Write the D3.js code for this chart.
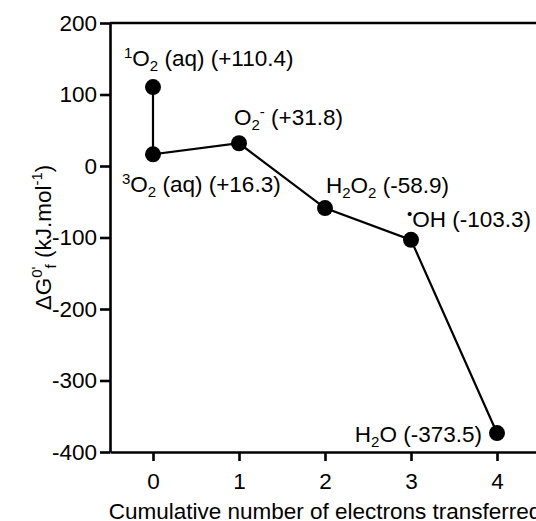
<!DOCTYPE html>
<html>
<head>
<meta charset="utf-8">
<script src="https://cdn.jsdelivr.net/npm/d3@7"></script>
<style>
  body { margin: 0; background: #fff; }
  svg { display: block; font-family: "Liberation Sans", Arial, sans-serif; }
</style>
</head>
<body>
<div id="chart"></div>
<script>
// electrons transferred (x) and ΔG0'f values (y)
const electrons = [0, 0, 1, 2, 3, 4]
const energies = [110.4, 16.3, 31.8, -58.9, -103.3, -373.5]
// species names as pieces: [text, "sup" | "sub" | ""]
const species = [
  [["1", "sup"], ["O", ""], ["2", "sub"], [" (aq)", ""]],
  [["3", "sup"], ["O", ""], ["2", "sub"], [" (aq)", ""]],
  [["O", ""], ["2", "sub"], ["-", "sup"]],
  [["H", ""], ["2", "sub"], ["O", ""], ["2", "sub"]],
  [["•", "sup"], ["OH", ""]],
  [["H", ""], ["2", "sub"], ["O", ""]]
]
const xTicks = [0, 1, 2, 3, 4]
const yTicks = [200, 100, 0, -100, -200, -300, -400]
const xTitle = "Cumulative number of electrons transferred"

const W = 536, H = 521
const margin = { left: 110, top: 23, bottom: 452 }
const fontSize = 22.5
const smallSize = 15

const svg = d3.select("#chart").append("svg").attr("width", W).attr("height", H)

const x = d3.scaleLinear().domain([-0.5, 4.5]).range([margin.left, margin.left + 430])
const y = d3.scaleLinear().domain([-400, 200]).range([margin.bottom, margin.top])

// 坐标轴
const gx = svg.append("g").attr("transform", `translate(0,${margin.bottom})`)
  .call(d3.axisBottom(x).tickValues(xTicks).tickSize(9).tickSizeOuter(0).tickPadding(12).tickFormat(d3.format("d")))
const gy = svg.append("g").attr("transform", `translate(${margin.left},0)`)
  .call(d3.axisLeft(y).tickValues(yTicks).tickSize(10).tickSizeOuter(0).tickPadding(3).tickFormat(d => String(d)))

;[gx, gy].forEach(g => {
  g.selectAll("path, line").attr("stroke", "#000").attr("stroke-width", 2.6)
  g.selectAll("text").attr("font-size", fontSize).attr("fill", "#000").attr("font-family", null)
})
// top frame line
svg.append("line")
  .attr("x1", x(-0.5)).attr("x2", x(4.5))
  .attr("y1", y(200)).attr("y2", y(200))
  .attr("stroke", "#000").attr("stroke-width", 2.6)

// 连线和点
const pts = electrons.map((e, i) => ({ e, v: energies[i], name: species[i] }))
svg.append("path")
  .datum(pts)
  .attr("fill", "none")
  .attr("stroke", "#000")
  .attr("stroke-width", 2.2)
  .attr("d", d3.line().x(d => x(d.e)).y(d => y(d.v)))

svg.append("g").selectAll("circle")
  .data(pts)
  .enter()
  .append("circle")
  .attr("cx", d => x(d.e))
  .attr("cy", d => y(d.v))
  .attr("r", 8)
  .attr("fill", "#000")

// 标签位置偏移 [dx, dy, anchor]
const labelOffsets = [
  [-29, -21, "start"],
  [-31, 38, "start"],
  [-5, -18, "start"],
  [1, -15, "start"],
  [-4, -13, "start"],
  [-15, 9, "end"]
]
const fmt = v => (v > 0 ? "+" : "") + v.toFixed(1)

function richText(sel, parts, small) {
  let shift = 0
  parts.forEach(([t, kind]) => {
    let target = kind === "sup" ? -8 : kind === "sub" ? 5 : 0
    sel.append("tspan")
      .attr("dy", target - shift)
      .attr("font-size", kind ? small : null)
      .text(t)
    shift = target
  })
  return shift
}

svg.append("g").selectAll("text")
  .data(pts)
  .enter()
  .append("text")
  .attr("x", (d, i) => x(d.e) + labelOffsets[i][0])
  .attr("y", (d, i) => y(d.v) + labelOffsets[i][1])
  .attr("text-anchor", (d, i) => labelOffsets[i][2])
  .attr("font-size", fontSize)
  .attr("fill", "#000")
  .each(function (d) {
    const t = d3.select(this)
    const shift = richText(t, d.name, smallSize)
    t.append("tspan").attr("dy", -shift).text(` (${fmt(d.v)})`)
  })

// x 轴标题
svg.append("text")
  .attr("x", x(2))
  .attr("y", 519)
  .attr("text-anchor", "middle")
  .attr("font-size", fontSize)
  .attr("fill", "#000")
  .text(xTitle)

// y 轴标题
const yt = svg.append("text")
  .attr("transform", `translate(51,${(margin.top + margin.bottom) / 2}) rotate(-90)`)
  .attr("text-anchor", "middle")
  .attr("font-size", fontSize)
  .attr("fill", "#000")
yt.append("tspan").text("ΔG")
yt.append("tspan").attr("dy", -9).attr("font-size", smallSize).text("0'")
yt.append("tspan").attr("dx", -2).attr("dy", 14).attr("font-size", smallSize).text("f")
yt.append("tspan").attr("dy", -5).text(" (kJ.mol")
yt.append("tspan").attr("dy", -9).attr("font-size", smallSize).text("-1")
yt.append("tspan").attr("dy", 9).text(")")
</script>
</body>
</html>
